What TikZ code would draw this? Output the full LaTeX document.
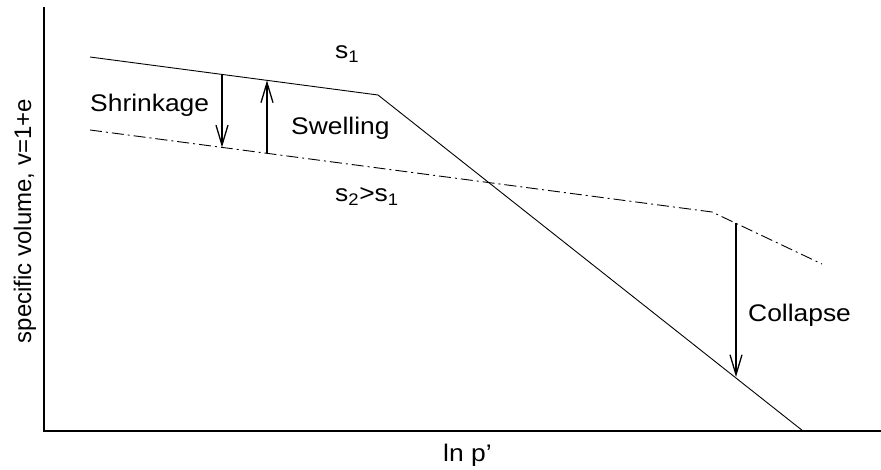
\documentclass[tikz,border=0pt]{standalone}
\usepackage{fontspec}
\setmainfont{Liberation Sans}
\usetikzlibrary{arrows.meta}
\begin{document}
\begin{tikzpicture}[x=1pt,y=-1pt,
  lbl/.style={font=\fontsize{24}{28}\selectfont, inner sep=0pt, xscale=1.1},
  ylbl/.style={font=\fontsize{24}{28}\selectfont, inner sep=0pt},
  axis/.style={line width=1.4pt},
  curve/.style={line width=0.9pt},
  dashdot/.style={line width=0.9pt, dash pattern=on 12pt off 4pt on 2pt off 4pt},
  change/.style={line width=1.3pt, -{Straight Barb[length=20pt,width=12pt,line width=1.3pt]}}]
\useasboundingbox (0,0) rectangle (881,470);
% axes
\coordinate (ytop) at (44,7);
\coordinate (origin) at (44,431);
\coordinate (xend) at (881,431);
\draw[axis] (ytop) -- (origin) -- (xend);
% s1 line
\coordinate (a1) at (90,57);
\coordinate (a2) at (378,95);
\coordinate (a3) at (803,431);
\draw[curve] (a1) -- (a2) -- (a3);
% s2 line
\coordinate (b1) at (90,130);
\coordinate (b2) at (712,212);
\coordinate (b3) at (822,264);
\draw[dashdot] (b1) -- (b2) -- (b3);
% arrows
\coordinate (sh1) at (222,74.4);
\coordinate (sh2) at (222,147.4);
\draw[change] (sh1) -- (sh2);
\coordinate (sw1) at (267,153.3);
\coordinate (sw2) at (267,80.4);
\draw[change] (sw1) -- (sw2);
\coordinate (co1) at (736,223.3);
\coordinate (co2) at (736,377);
\draw[change] (co1) -- (co2);
% labels
\node[lbl, anchor=base west] (s1) at (335,59) {s\textsubscript{1}};
\node[lbl, anchor=base west] (shr) at (90,112) {Shrinkage};
\node[lbl, anchor=base west] (swe) at (291,135) {Swelling};
\node[lbl, anchor=base west] (s2) at (335,202) {s\textsubscript{2}>s\textsubscript{1}};
\node[lbl, anchor=base west] (col) at (748,322) {Collapse};
\node[lbl, anchor=base west] (xl) at (443,461) {ln p'};
\node[ylbl, anchor=base, rotate=90] (yl) at (31,221) {specific volume, v=1+e};
\end{tikzpicture}
\end{document}
